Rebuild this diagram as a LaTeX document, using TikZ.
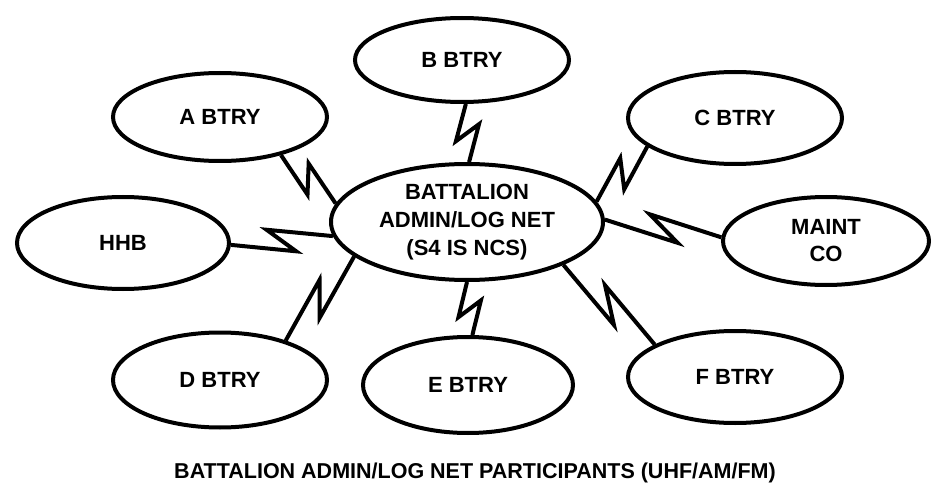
\documentclass[tikz,border=0pt]{standalone}
\usepackage{fontspec}
\setmainfont{Liberation Sans}
\usetikzlibrary{calc,shapes.geometric}

\begin{document}
\begin{tikzpicture}[x=1pt,y=-1pt,
  unit/.style={ellipse,draw,line width=4pt,minimum width=214pt,minimum height=92pt,
    inner sep=0pt,align=center,font=\bfseries\fontsize{22}{27}\selectfont},
  bolt/.style={line width=4pt,miter limit=12,
    to path={-- ($(\tikztostart)!0.63!(\tikztotarget)!12pt!#1:(\tikztotarget)$)
      -- ($(\tikztotarget)!0.64!(\tikztostart)!12pt!#1:(\tikztostart)$)
      -- (\tikztotarget)}},
  bolt/.default=-90]

  \useasboundingbox (0,0) rectangle (932,484);

  \node[unit] (net) at (467,222) [minimum width=272pt,minimum height=116pt,
    font=\bfseries\fontsize{22}{28}\selectfont] {BATTALION\\ADMIN/LOG NET\\(S4 IS NCS)};
  \node[unit] (b) at (462,60) [minimum height=84pt] {B BTRY};
  \node[unit] (a) at (220,117) [minimum height=88pt] {A BTRY};
  \node[unit] (c) at (735,118) {C BTRY};
  \node[unit] (hhb) at (123,243) [minimum width=212pt] {HHB};
  \node[unit] (maint) at (826,241) [minimum width=206pt,minimum height=88pt] {MAINT\\CO};
  \node[unit] (d) at (220,380) [minimum height=95pt] {D BTRY};
  \node[unit] (e) at (468,385) [minimum width=210pt,minimum height=96pt] {E BTRY};
  \node[unit] (f) at (735,377) {F BTRY};

  \node[anchor=base,inner sep=0pt,font=\bfseries\fontsize{21.5}{24}\selectfont] (title) at (475,478)
    {BATTALION ADMIN/LOG NET PARTICIPANTS (UHF/AM/FM)};

  % radio links
  \path
    (a.-32) edge[bolt] (net.172)
    (b.-85) edge[bolt] (net.88)
    (c.-162) edge[bolt=90] (net.9)
    (hhb.-1) edge[bolt] (net.-174)
    (maint.178) edge[bolt] (net.1)
    (d.31) edge[bolt=90] (net.-163)
    (e.85) edge[bolt] (net.-90)
    (f.158) edge[bolt] (net.-24);
\end{tikzpicture}
\end{document}
